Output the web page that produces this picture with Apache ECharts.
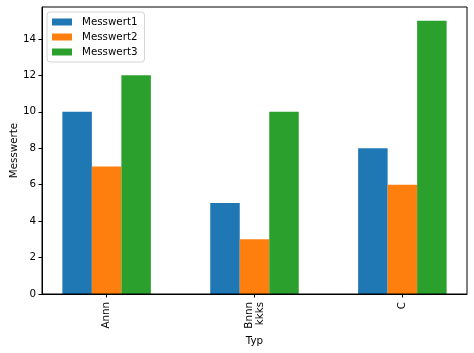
<!DOCTYPE html>
<html>
<head>
<meta charset="utf-8">
<script src="https://cdn.jsdelivr.net/npm/echarts@6/dist/echarts.min.js"></script>
<style>
  html, body { margin: 0; padding: 0; background: #fff; }
  #chart { width: 474px; height: 353px; }
</style>
</head>
<body>
<div id="chart"></div>
<script>
var categories = ["Annn", "Bnnn\nkkks", "C"];
var messwert1 = [10, 5, 8];
var messwert2 = [7, 3, 6];
var messwert3 = [12, 10, 15];
var yTicks = [0, 2, 4, 6, 8, 10, 12, 14];

var font = "DejaVu Sans";
var colors = ["#1f77b4", "#ff7f0e", "#2ca02c"];

function toPoints(values) {
    return values.map(function(v, i) { return [i, v]; });
}

function makeSeries(name, values, color) {
    return {
        name: name,
        type: "bar",
        barWidth: 29.5,
        barGap: "0%",
        itemStyle: { color: color },
        data: toPoints(values)
    };
}

var myChart = echarts.init(document.getElementById("chart"));
myChart.setOption({
    animation: false,
    textStyle: { fontFamily: font },
    grid: { left: 42, right: 7, top: 7, bottom: 59, containLabel: false, outerBoundsMode: "none" },
    legend: {
        orient: "vertical",
        left: 47,
        top: 12,
        padding: [5, 7, 5, 5],
        itemWidth: 20,
        itemHeight: 7,
        itemGap: 5,
        borderColor: "#d5d5d5",
        borderWidth: 1,
        borderRadius: 3,
        backgroundColor: "rgba(255,255,255,0.8)",
        icon: "rect",
        textStyle: { fontFamily: font, fontSize: 10.3, color: "#000", padding: [0, 0, 0, 5] },
        data: ["Messwert1", "Messwert2", "Messwert3"]
    },
    xAxis: {
        type: "value",
        min: -0.437,
        max: 2.437,
        name: "Typ",
        nameLocation: "middle",
        nameGap: 42,
        nameTextStyle: { fontFamily: font, fontSize: 10.3, color: "#000" },
        axisLine: { show: true, onZero: false, lineStyle: { color: "#000", width: 1 } },
        splitLine: { show: false },
        axisTick: {
            show: true,
            customValues: [0, 1, 2],
            length: 3.5,
            lineStyle: { color: "#000" }
        },
        axisLabel: {
            customValues: [0, 1, 2],
            rotate: 90,
            margin: 8,
            fontFamily: font,
            fontSize: 10.3,
            color: "#000",
            lineHeight: 11,
            formatter: function(v) { return categories[Math.round(v)]; }
        }
    },
    yAxis: {
        type: "value",
        min: 0,
        max: 15.75,
        interval: 2,
        name: "Messwerte",
        nameLocation: "middle",
        nameGap: 23,
        nameMoveOverlap: false,
        nameTextStyle: { fontFamily: font, fontSize: 10.3, color: "#000" },
        axisLine: { show: true, onZero: false, lineStyle: { color: "#000", width: 1 } },
        splitLine: { show: false },
        axisTick: {
            show: true,
            customValues: yTicks,
            length: 3.5,
            lineStyle: { color: "#000" }
        },
        axisLabel: {
            customValues: yTicks,
            margin: 6,
            fontFamily: font,
            fontSize: 10.3,
            color: "#000"
        }
    },
    series: [
        makeSeries("Messwert1", messwert1, colors[0]),
        makeSeries("Messwert2", messwert2, colors[1]),
        makeSeries("Messwert3", messwert3, colors[2])
    ],
    graphic: [{
        type: "rect",
        shape: { x: 42, y: 7, width: 425, height: 287 },
        style: { fill: "none", stroke: "#000", lineWidth: 1 },
        silent: true,
        z: 10
    }]
});
</script>
</body>
</html>
